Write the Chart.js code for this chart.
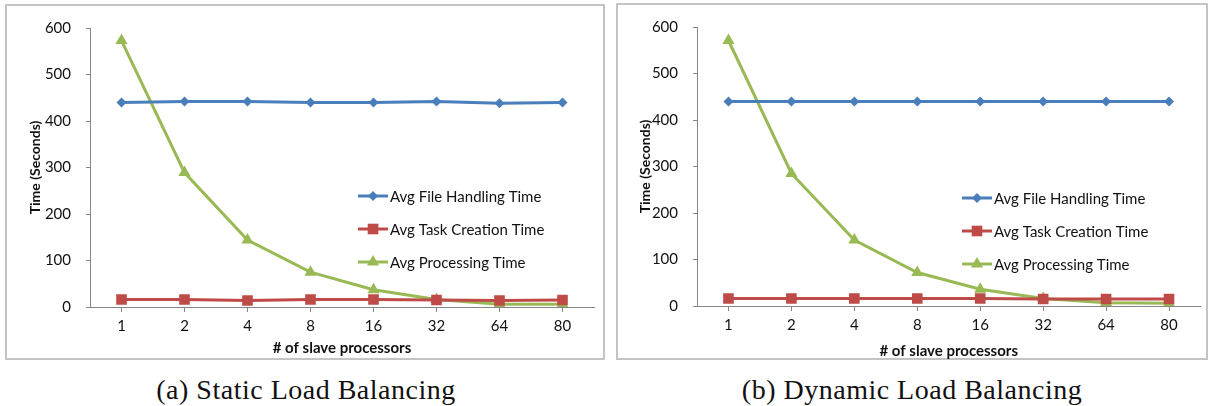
<!DOCTYPE html>
<html>
<head>
<meta charset="utf-8">
<script src="https://cdn.jsdelivr.net/npm/chart.js@4.4.0/dist/chart.umd.min.js"></script>
<style>
  body { margin: 0; background: #fff; width: 1211px; height: 406px; position: relative; overflow: hidden; }
  .frame { position: absolute; box-sizing: border-box; border: 2px solid #c4c4c4; }
  .box { position: absolute; }
  .caption { position: absolute; width: 600px; text-align: center; font-family: "Liberation Serif", serif; font-size: 28px; line-height: 28px; letter-spacing: 0.5px; color: #111; top: 376px; }
</style>
</head>
<body>
<div class="frame" style="left:5px; top:4px; width:600px; height:356px;"></div>
<div class="box" style="left:5px; top:4px;"><canvas id="staticChart" width="600" height="356"></canvas></div>
<div class="frame" style="left:616px; top:3px; width:592px; height:357px;"></div>
<div class="box" style="left:616px; top:3px;"><canvas id="dynamicChart" width="592" height="357"></canvas></div>
<div class="caption" style="left:6px;">(a) Static Load Balancing</div>
<div class="caption" style="left:612px;">(b) Dynamic Load Balancing</div>

<script>
// x categories (number of slave processors)
const processors = ['1', '2', '4', '8', '16', '32', '64', '80'];
const yTicks = [0, 100, 200, 300, 400, 500, 600];

// (a) static load balancing, seconds
const staticFileHandling = [440, 442, 442, 440, 440, 442, 438, 440];
const staticTaskCreation = [16, 16, 14, 16, 16, 15, 14, 15];
const staticProcessing = [573, 289, 144, 75, 37, 16, 6, 6];

// (b) dynamic load balancing, seconds
const dynamicFileHandling = [440, 440, 440, 440, 440, 440, 440, 440];
const dynamicTaskCreation = [16, 16, 16, 16, 16, 15, 15, 15];
const dynamicProcessing = [571, 285, 142, 72, 36, 16, 7, 6];

const seriesNames = ['Avg File Handling Time', 'Avg Task Creation Time', 'Avg Processing Time'];

const axisColor = '#868686';
const tickFont = { family: 'Lato', size: 15 };

// legend drawn inside the plot, line sample + marker + label
const innerLegend = {
    id: 'innerLegend',
    afterDraw(chart, args, opts) {
        const ctx = chart.ctx;
        chart.data.datasets.forEach((ds, i) => {
            const y = opts.y + i * opts.gap;
            ctx.save();
            ctx.strokeStyle = ds.borderColor;
            ctx.lineWidth = ds.borderWidth;
            ctx.beginPath();
            ctx.moveTo(opts.x, y);
            ctx.lineTo(opts.x + opts.len, y);
            ctx.stroke();

            ctx.fillStyle = ds.pointBackgroundColor;
            ctx.strokeStyle = ds.pointBorderColor;
            Chart.helpers.drawPoint(ctx, {
                pointStyle: ds.pointStyle,
                radius: ds.pointRadius,
                rotation: 0,
                borderWidth: 0
            }, opts.x + opts.len / 2, y);

            ctx.fillStyle = '#111';
            ctx.font = '15px Lato';
            ctx.textBaseline = 'middle';
            ctx.fillText(ds.label, opts.x + opts.len + 2, y + 1);
            ctx.restore();
        });
    }
};

function makeSeries(label, data, color, style, radius) {
    return {
        label: label,
        data: data,
        borderColor: color,
        backgroundColor: color,
        borderWidth: 3,
        pointStyle: style,
        pointRadius: radius,
        pointBackgroundColor: color,
        pointBorderColor: color,
        pointBorderWidth: 0,
        tension: 0
    };
}

function drawChart(canvasId, fileData, taskData, procData, lay) {
    const ctx = document.getElementById(canvasId).getContext('2d');
    return new Chart(ctx, {
        type: 'line',
        data: {
            labels: processors,
            datasets: [
                makeSeries(seriesNames[0], fileData, '#4a7ebb', 'rectRot', 5),
                makeSeries(seriesNames[1], taskData, '#be4b48', 'rect', 7.5),
                makeSeries(seriesNames[2], procData, '#98b954', 'triangle', 7)
            ]
        },
        options: {
            responsive: false,
            animation: false,
            layout: { padding: { top: lay.top, right: lay.right, left: 0, bottom: 0 } },
            plugins: {
                legend: { display: false },
                tooltip: { enabled: false },
                innerLegend: lay.legend
            },
            scales: {
                x: {
                    offset: true,
                    ticks: { color: '#111', font: tickFont, padding: 5, maxRotation: 0 },
                    grid: { drawOnChartArea: false, tickLength: 5, color: axisColor },
                    border: { color: axisColor, width: 1 },
                    title: {
                        display: true, text: '# of slave processors', color: '#111',
                        font: { family: 'Lato', size: 15, weight: 'bold' },
                        padding: { bottom: lay.xTitlePad }
                    },
                    afterFit: s => { s.height = lay.xHeight; }
                },
                y: {
                    min: yTicks[0],
                    max: yTicks[yTicks.length - 1],
                    afterBuildTicks: s => { s.ticks = yTicks.map(v => ({ value: v })); },
                    ticks: { color: '#111', font: tickFont, padding: 15 },
                    grid: { drawOnChartArea: false, tickLength: 4, color: axisColor },
                    border: { color: axisColor, width: 1 },
                    title: {
                        display: true, text: 'Time (Seconds)', color: '#111',
                        font: { family: 'Lato', size: 14, weight: 'bold' },
                        padding: { top: lay.yTitlePad }
                    },
                    afterFit: s => { s.width = lay.yWidth; }
                }
            }
        },
        plugins: [innerLegend]
    });
}

drawChart('staticChart', staticFileHandling, staticTaskCreation, staticProcessing, {
    top: 19, right: 11, yWidth: 85, xHeight: 53, xTitlePad: 3, yTitlePad: 22,
    legend: { x: 353, y: 192, gap: 33, len: 30 }
});

drawChart('dynamicChart', dynamicFileHandling, dynamicTaskCreation, dynamicProcessing, {
    top: 18, right: 6, yWidth: 81, xHeight: 54, xTitlePad: 0, yTitlePad: 21,
    legend: { x: 346, y: 195, gap: 33, len: 30 }
});
</script>
</body>
</html>
